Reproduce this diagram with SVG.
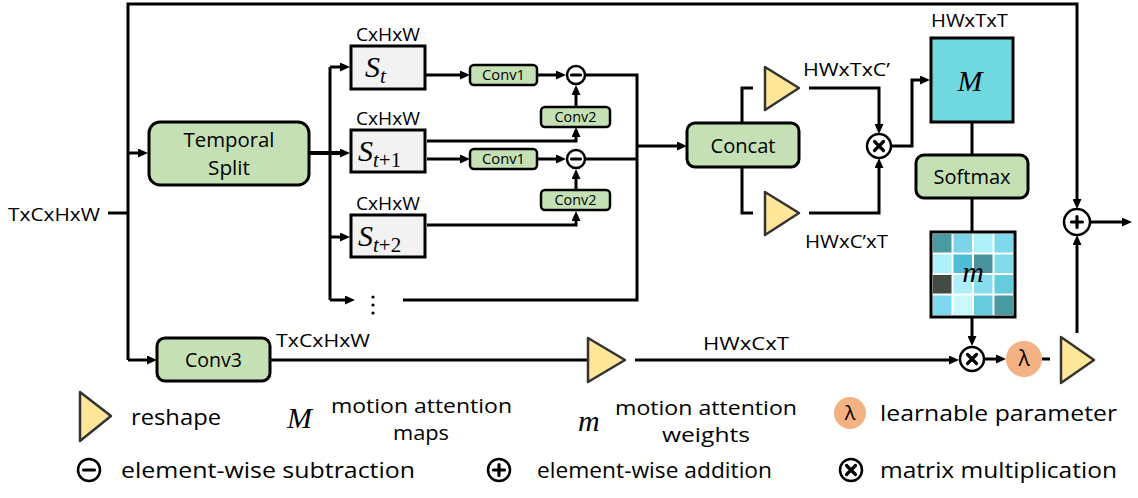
<svg xmlns="http://www.w3.org/2000/svg" width="1138" height="498" viewBox="0 0 1138 498">
<defs>
  <marker id="ah" viewBox="0 0 10 9" refX="2" refY="4.5" markerWidth="10" markerHeight="9" markerUnits="userSpaceOnUse" orient="auto">
    <path d="M0,0 L10,4.5 L0,9 z" fill="#000"/>
  </marker>
</defs>
<style>
  .ln{fill:none;stroke:#000;stroke-width:3}
  .arr{fill:none;stroke:#000;stroke-width:3;marker-end:url(#ah)}
  .gbox{fill:#c5e0b4;stroke:#000;stroke-width:3}
  .sbox{fill:#f2f2f2;stroke:#000;stroke-width:3}
  .tri{fill:#ffe699;stroke:#333;stroke-width:2.5;stroke-linejoin:round}
  .op{fill:#fff;stroke:#000;stroke-width:2.5}
  .sym{fill:none;stroke:#000;stroke-width:3.2;stroke-linecap:round}
  .t{font-family:"Open Sans","Noto Sans","Liberation Sans",sans-serif;font-weight:400;fill:#000}
  .math{font-family:"Liberation Serif","DejaVu Serif",serif;font-style:italic;fill:#000}
  .mup{font-family:"Liberation Serif","DejaVu Serif",serif;fill:#000}
</style>

<!-- connectors -->
<g id="connectors">
  <path class="ln" d="M108,213 H128"/>
  <path class="arr" d="M128,360 V4 H1077 V201"/>
  <path class="arr" d="M128,360 H149"/>
  <path class="arr" d="M128,153 H140"/>
  <!-- temporal split fan-out -->
  <path class="arr" d="M309,153 H342" style="stroke-width:4"/>
  <path class="ln" d="M330,67 V300"/>
  <path class="arr" d="M330,67 H342"/>
  <path class="arr" d="M330,237 H342"/>
  <path class="arr" d="M330,300 H347"/>
  <!-- difference branches -->
  <path class="arr" d="M425,75 H462"/>
  <path class="arr" d="M537,75 H558"/>
  <path class="arr" d="M576,107 V93"/>
  <path class="arr" d="M427,141 H576 V135"/>
  <path class="arr" d="M427,159 H462"/>
  <path class="arr" d="M537,159 H558"/>
  <path class="arr" d="M576,190 V177"/>
  <path class="arr" d="M427,225 H576 V219"/>
  <path class="ln" d="M585,75 H637 V300 H403"/>
  <path class="ln" d="M585,159 H637"/>
  <path class="arr" d="M637,146 H679"/>
  <!-- attention branch -->
  <path class="ln" d="M742,123 V88 H753"/>
  <path class="ln" d="M742,167 V213 H753"/>
  <path class="arr" d="M809,88 H879 V126"/>
  <path class="arr" d="M809,213 H879 V166"/>
  <path class="arr" d="M891,146 H912 V80 H922"/>
  <path class="ln" d="M972,122 V155"/>
  <path class="ln" d="M972,198 V232"/>
  <path class="arr" d="M972,317 V338"/>
  <!-- value branch -->
  <path class="ln" d="M270,360 H588"/>
  <path class="arr" d="M635,360 H951"/>
  <path class="arr" d="M985,359 H998"/>
  <path class="ln" d="M1042,359 H1050"/>
  <path class="arr" d="M1077,333 V243"/>
  <path class="arr" d="M1091,222 H1124"/>
</g>

<!-- input label -->
<text class="t" x="8" y="221" font-size="18" textLength="92" lengthAdjust="spacingAndGlyphs">TxCxHxW</text>

<g id="temporal-split">
  <rect class="gbox" x="149" y="122" width="160" height="63" rx="11"/>
  <text class="t" font-size="20" text-anchor="middle"><tspan x="229" y="147" textLength="91" lengthAdjust="spacingAndGlyphs">Temporal</tspan><tspan x="229" y="175" textLength="42" lengthAdjust="spacingAndGlyphs">Split</tspan></text>
</g>

<g id="s-t">
  <text class="t" x="356" y="41" font-size="18" textLength="64" lengthAdjust="spacingAndGlyphs">CxHxW</text>
  <rect class="sbox" x="351" y="46" width="74" height="43"/>
  <text class="math" x="365" y="77" font-size="30">S<tspan font-size="21" dy="6">t</tspan></text>
</g>
<g id="s-t1">
  <text class="t" x="356" y="125" font-size="18" textLength="64" lengthAdjust="spacingAndGlyphs">CxHxW</text>
  <rect class="sbox" x="351" y="130" width="74" height="42"/>
  <text class="math" x="358" y="161" font-size="30">S<tspan font-size="21" dy="6">t</tspan><tspan class="mup" font-size="21" font-style="normal">+1</tspan></text>
</g>
<g id="s-t2">
  <text class="t" x="356" y="210" font-size="18" textLength="64" lengthAdjust="spacingAndGlyphs">CxHxW</text>
  <rect class="sbox" x="351" y="215" width="74" height="42"/>
  <text class="math" x="358" y="246" font-size="30">S<tspan font-size="21" dy="6">t</tspan><tspan class="mup" font-size="21" font-style="normal">+2</tspan></text>
</g>
<g id="s-more">
  <circle cx="373" cy="297" r="1.6"/>
  <circle cx="373" cy="305" r="1.6"/>
  <circle cx="373" cy="313" r="1.6"/>
</g>

<g id="conv1-a">
  <rect class="gbox" x="470" y="65" width="67" height="20" rx="4" style="stroke-width:2.5"/>
  <text class="t" x="503.5" y="80" font-size="14" text-anchor="middle" textLength="43" lengthAdjust="spacingAndGlyphs">Conv1</text>
</g>
<g id="conv1-b">
  <rect class="gbox" x="470" y="149" width="67" height="20" rx="4" style="stroke-width:2.5"/>
  <text class="t" x="503.5" y="164" font-size="14" text-anchor="middle" textLength="43" lengthAdjust="spacingAndGlyphs">Conv1</text>
</g>
<g id="conv2-a">
  <rect class="gbox" x="541" y="107" width="69" height="20" rx="4" style="stroke-width:2.5"/>
  <text class="t" x="575.5" y="122" font-size="14" text-anchor="middle" textLength="42" lengthAdjust="spacingAndGlyphs">Conv2</text>
</g>
<g id="conv2-b">
  <rect class="gbox" x="541" y="190" width="69" height="20" rx="4" style="stroke-width:2.5"/>
  <text class="t" x="575.5" y="205" font-size="14" text-anchor="middle" textLength="42" lengthAdjust="spacingAndGlyphs">Conv2</text>
</g>
<g id="sub-a">
  <circle class="op" cx="576" cy="75" r="9"/>
  <path class="sym" d="M571.5,75 H580.5"/>
</g>
<g id="sub-b">
  <circle class="op" cx="576" cy="159" r="9"/>
  <path class="sym" d="M571.5,159 H580.5"/>
</g>

<g id="concat">
  <rect class="gbox" x="687" y="123" width="112" height="44" rx="8"/>
  <text class="t" x="743" y="153" font-size="20" text-anchor="middle" textLength="65" lengthAdjust="spacingAndGlyphs">Concat</text>
</g>
<g id="reshape-q">
  <path class="tri" d="M765,67 L799,88 L765,110 z"/>
  <text class="t" x="803" y="76" font-size="18" textLength="87" lengthAdjust="spacingAndGlyphs">HWxTxC’</text>
</g>
<g id="reshape-k">
  <path class="tri" d="M765,192 L799,213 L765,235 z"/>
  <text class="t" x="805" y="248" font-size="18" textLength="83" lengthAdjust="spacingAndGlyphs">HWxC’xT</text>
</g>
<g id="matmul-a">
  <circle class="op" cx="879" cy="146" r="12"/>
  <path class="sym" d="M874.5,141.5 L883.5,150.5 M883.5,141.5 L874.5,150.5"/>
</g>

<g id="attention-maps">
  <text class="t" x="931" y="27" font-size="18" textLength="77" lengthAdjust="spacingAndGlyphs">HWxTxT</text>
  <rect x="931" y="38" width="82" height="84" fill="#6fd9df" stroke="#000" stroke-width="3"/>
  <text class="math" x="970" y="91" font-size="30" text-anchor="middle">M</text>
</g>
<g id="softmax">
  <rect class="gbox" x="916" y="155" width="112" height="43" rx="8"/>
  <text class="t" x="972" y="184" font-size="20" text-anchor="middle" textLength="77" lengthAdjust="spacingAndGlyphs">Softmax</text>
</g>
<g id="attention-weights">
  <rect x="931" y="232" width="84" height="85" fill="#fff"/>
  <rect x="933" y="234" width="18.5" height="18.5" fill="#4a9aa2"/>
  <rect x="953.5" y="234" width="18.5" height="18.5" fill="#7dd4ea"/>
  <rect x="974" y="234" width="18.5" height="18.5" fill="#aef0f8"/>
  <rect x="994.5" y="234" width="18.5" height="18.5" fill="#7dd8ec"/>
  <rect x="933" y="254.5" width="18.5" height="18.5" fill="#aef0f8"/>
  <rect x="953.5" y="254.5" width="18.5" height="18.5" fill="#4dbcd6"/>
  <rect x="974" y="254.5" width="18.5" height="18.5" fill="#4a929c"/>
  <rect x="994.5" y="254.5" width="18.5" height="18.5" fill="#80dce8"/>
  <rect x="933" y="275" width="18.5" height="18.5" fill="#444b45"/>
  <rect x="953.5" y="275" width="18.5" height="18.5" fill="#aeeef8"/>
  <rect x="974" y="275" width="18.5" height="18.5" fill="#88dcef"/>
  <rect x="994.5" y="275" width="18.5" height="18.5" fill="#66ccdd"/>
  <rect x="933" y="295.5" width="18.5" height="19.5" fill="#7dd8ef"/>
  <rect x="953.5" y="295.5" width="18.5" height="19.5" fill="#c8f8fc"/>
  <rect x="974" y="295.5" width="18.5" height="19.5" fill="#66ccdd"/>
  <rect x="994.5" y="295.5" width="18.5" height="19.5" fill="#4a98a0"/>
  <rect x="931" y="232" width="84" height="85" fill="none" stroke="#000" stroke-width="3"/>
  <text class="math" x="973" y="282" font-size="30" text-anchor="middle">m</text>
</g>

<g id="conv3">
  <rect class="gbox" x="157" y="338" width="113" height="43" rx="8"/>
  <text class="t" x="213.5" y="367" font-size="20" text-anchor="middle" textLength="57" lengthAdjust="spacingAndGlyphs">Conv3</text>
  <text class="t" x="276" y="347" font-size="18" textLength="94" lengthAdjust="spacingAndGlyphs">TxCxHxW</text>
</g>
<g id="reshape-v">
  <path class="tri" d="M588,338 L625,360 L588,382 z"/>
  <text class="t" x="703" y="350" font-size="18" textLength="86" lengthAdjust="spacingAndGlyphs">HWxCxT</text>
</g>
<g id="matmul-b">
  <circle class="op" cx="972" cy="359" r="12"/>
  <path class="sym" d="M967.5,354.5 L976.5,363.5 M976.5,354.5 L967.5,363.5"/>
</g>
<g id="lambda">
  <circle cx="1024" cy="359" r="18" fill="#f4b183"/>
  <text class="t" x="1024" y="366" font-size="21" text-anchor="middle">λ</text>
</g>
<g id="reshape-out">
  <path class="tri" d="M1061,337 L1094,360 L1061,383 z"/>
</g>
<g id="add">
  <circle class="op" cx="1077" cy="222" r="13"/>
  <path class="sym" d="M1071.5,222 H1082.5 M1077,216.5 V227.5"/>
</g>

<!-- legend -->
<g id="legend">
  <path class="tri" d="M80,392 L111,416 L80,441 z"/>
  <text class="t" x="131" y="425" font-size="22" textLength="90" lengthAdjust="spacingAndGlyphs">reshape</text>
  <text class="math" x="287" y="428" font-size="30">M</text>
  <text class="t" font-size="20" text-anchor="middle"><tspan x="421.5" y="413" textLength="181" lengthAdjust="spacingAndGlyphs">motion attention</tspan><tspan x="421" y="440" textLength="56" lengthAdjust="spacingAndGlyphs">maps</tspan></text>
  <text class="math" x="578" y="431" font-size="30">m</text>
  <text class="t" font-size="20" text-anchor="middle"><tspan x="706" y="415" textLength="182" lengthAdjust="spacingAndGlyphs">motion attention</tspan><tspan x="706" y="442" textLength="88" lengthAdjust="spacingAndGlyphs">weights</tspan></text>
  <circle cx="850" cy="413" r="16" fill="#f4b183"/>
  <text class="t" x="850" y="420" font-size="20" text-anchor="middle">λ</text>
  <text class="t" x="880" y="421" font-size="22" textLength="237" lengthAdjust="spacingAndGlyphs">learnable parameter</text>

  <circle class="op" cx="89" cy="470" r="11"/>
  <path class="sym" d="M83.5,470 H94.5"/>
  <text class="t" x="121" y="478" font-size="22" textLength="294" lengthAdjust="spacingAndGlyphs">element-wise subtraction</text>
  <circle class="op" cx="499" cy="470" r="11"/>
  <path class="sym" d="M493.5,470 H504.5 M499,464.5 V475.5"/>
  <text class="t" x="537" y="478" font-size="22" textLength="235" lengthAdjust="spacingAndGlyphs">element-wise addition</text>
  <circle class="op" cx="851" cy="470" r="11"/>
  <path class="sym" d="M846.5,465.5 L855.5,474.5 M855.5,465.5 L846.5,474.5"/>
  <text class="t" x="880" y="478" font-size="22" textLength="237" lengthAdjust="spacingAndGlyphs">matrix multiplication</text>
</g>
</svg>
